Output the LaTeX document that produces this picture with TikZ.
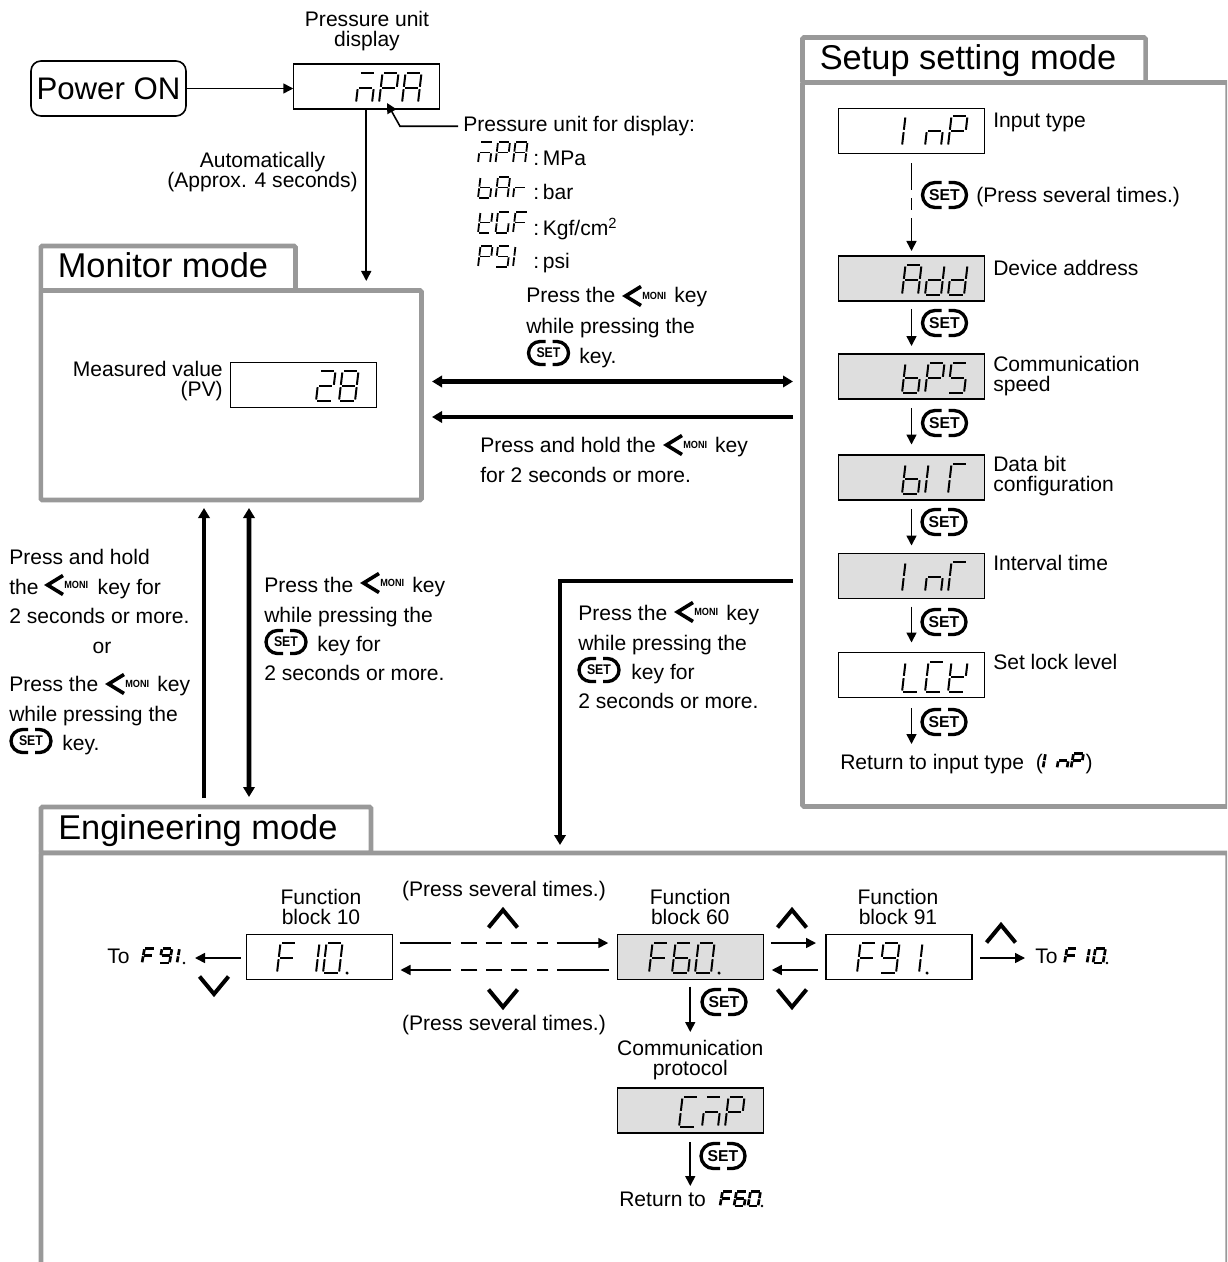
\documentclass[tikz,border=0pt]{standalone}
\usepackage{fontspec}
\setmainfont{Liberation Sans}
\newfontfamily\keyfont[FakeStretch=0.88]{Liberation Sans}
\usetikzlibrary{arrows.meta,calc}
\definecolor{framegray}{gray}{0.6}
\definecolor{dispfill}{gray}{0.87}
\newcommand\ts{\rule{0pt}{12.5pt}}
% seven segment glyphs
\tikzset{ssline/.style={line width=\ssL,line cap=butt}}
\expandafter\def\csname ssa\endcsname{\draw[ssline] (.08,1)--(.92,1);}
\expandafter\def\csname ssb\endcsname{\draw[ssline] (1,.95)--(1,.54);}
\expandafter\def\csname ssc\endcsname{\draw[ssline] (1,.46)--(1,.05);}
\expandafter\def\csname ssd\endcsname{\draw[ssline] (.92,0)--(.08,0);}
\expandafter\def\csname sse\endcsname{\draw[ssline] (0,.05)--(0,.46);}
\expandafter\def\csname ssf\endcsname{\draw[ssline] (0,.54)--(0,.95);}
\expandafter\def\csname ssg\endcsname{\draw[ssline] (.08,.5)--(.92,.5);}
\expandafter\def\csname ssz\endcsname{}
\expandafter\def\csname ss.\endcsname{\fill (\ssD,0) circle[radius=\ssR];}
\expandafter\def\csname ss!\endcsname{\fill (0.7,0) circle[radius=\ssR];}
\def\ssgl#1{\ifx#1\relax\else\csname ss#1\endcsname\expandafter\ssgl\fi}
\newcommand\ssbig{\def\ssW{16}\def\ssS{3.5}\def\ssH{30}\def\ssP{23}\def\ssL{1.5pt}\def\ssD{1.5}\def\ssR{1.3pt}}
\newcommand\sssmall{\def\ssW{12}\def\ssS{2.5}\def\ssH{21}\def\ssP{17.5}\def\ssL{1.35pt}\def\ssD{1.5}\def\ssR{1pt}}
\newcommand\ssinl{\def\ssW{10}\def\ssS{2.5}\def\ssH{14.5}\def\ssP{14}\def\ssL{2pt}\def\ssD{1.4}\def\ssR{1pt}}
\newcommand\sevenword[4]{#1%
  \foreach \g [count=\i from 0] in {#4}{%
    \begin{scope}[shift={({#2+\i*\ssP},#3)},x={(\ssW*0.75pt,0pt)},y={(\ssS*0.75pt,\ssH*0.75pt)}]
      \expandafter\ssgl\g\relax
    \end{scope}
  }}
\newcommand\setring[2]{%
  \draw[line width=2.5pt,rounded corners=#2*0.75pt] (-3,-#2) -- (-#1,-#2) -- (-#1,#2) -- (-3,#2);
  \draw[line width=2.5pt,rounded corners=#2*0.75pt] (4,-#2) -- (#1,-#2) -- (#1,#2) -- (4,#2);}
\tikzset{
  frame/.style={draw=framegray,line width=3.4pt,fill=white,rounded corners=1pt,inner sep=0pt,outer sep=0pt},
  hd/.style={font=\fontsize{25.8}{30}\selectfont,inner sep=0pt,anchor=base west},
  disp/.style={draw,line width=0.9pt,minimum width=109.5pt,minimum height=33.75pt,inner sep=0pt,outer sep=0pt,fill=white},
  dispg/.style={disp,fill=dispfill},
  conn/.style={line width=1.2pt,-{Triangle[length=7.5pt,width=7.5pt]}},
  fatline/.style={line width=3.6pt,line join=miter},
  fatto/.style={fatline,-{Triangle[length=7.5pt,width=8.5pt]}},
  fatboth/.style={fatline,{Triangle[length=7.5pt,width=8.5pt]}-{Triangle[length=7.5pt,width=8.5pt]}},
  lblw/.style={inner sep=0pt,anchor=north west,align=left,font=\fontsize{15.8}{22}\selectfont},
  lblt/.style={inner sep=0pt,anchor=north west,align=left,font=\fontsize{15.8}{15}\selectfont},
  lblc/.style={inner sep=0pt,anchor=north,align=center,font=\fontsize{15.8}{15}\selectfont},
  monikey/.pic={
    \draw[line width=2.7pt,line join=miter] (18,-9.5) -- (2.5,0) -- (18,9.5);
    \node[inner sep=0pt,anchor=west,font=\keyfont\bfseries\fontsize{7.8}{8}\selectfont] (-t) at (19,0) {MONI};
  },
  bigset/.pic={
    \setring{22}{12.5}
    \node[inner sep=0pt,font=\bfseries\fontsize{11.8}{12}\selectfont] (-t) at (0,0) {SET};
  },
  smallset/.pic={
    \setring{20}{11.5}
    \node[inner sep=0pt,font=\keyfont\bfseries\fontsize{10.5}{11}\selectfont] (-t) at (0,0) {SET};
  },
  upkey/.pic={\draw[line width=3pt,line join=miter] (-14.5,20.5) -- (0,3) -- (14.5,20.5);},
  downkey/.pic={\draw[line width=3pt,line join=miter] (-14.5,-20.5) -- (0,-3) -- (14.5,-20.5);},
}
\begin{document}
\begin{tikzpicture}[x=0.75pt,y=-0.75pt]
\useasboundingbox (0,0) rectangle (1227,1262);
\clip (0,0) rectangle (1227,1262);
% ---------- frames
\node[frame,minimum width={254.7*0.75pt},minimum height={44.5*0.75pt}] (montab) at (168.15,268.25) {};
\node[frame,minimum width={380.7*0.75pt},minimum height={209.5*0.75pt}] (monitor) at (231.15,395.25) {};
\node[hd] (monlabel) at (57.5,277) {Monitor mode};
\node[frame,minimum width={343*0.75pt},minimum height={45*0.75pt}] (setuptab) at (974,60) {};
\node[frame,minimum width={425.2*0.75pt},minimum height={724*0.75pt}] (setup) at (1015.1,444.5) {};
\node[hd] (setuplabel) at (819.5,70) {Setup setting mode};
\node[frame,minimum width={330*0.75pt},minimum height={46*0.75pt}] (engtab) at (206,830) {};
\node[frame,minimum width={1186.7*0.75pt},minimum height={447*0.75pt}] (engineering) at (634.35,1076.5) {};
\node[hd] (englabel) at (58,839) {Engineering mode};
% ---------- top
\node[draw,line width=1.2pt,rounded corners=7.5pt,minimum width={155*0.75pt},minimum height={55*0.75pt},inner sep=0pt,font=\fontsize{23.4}{26}\selectfont] (power) at (108.5,88.5) {Power ON};
\node[disp] (pdisp) at (366.25,86.5) {};
\sevenword\ssbig{356}{103}{aceg,abefg,abcefg}
\node[lblc] (punitcap) at (367,10) {\ts Pressure unit\\display};
\draw[conn] (power.east) -- (power.east -| pdisp.west);
\draw[conn] (pdisp.south) -- ($(pdisp.south |- monitor.north)+(0,-9.5)$);
\node[lblc] (autolabel) at (262.5,151) {\ts Automatically\\(Approx. 4 seconds)};
\node[lblw] (punit) at (463,115) {\ts Pressure unit for display:};
\draw[conn] ($(punit.west)+(-5,0.5)$) -- ++(-58,0) -- ($(pdisp.south)+(20.75,-6)$);
\sevenword\sssmall{478}{163}{aceg,abefg,abcefg}
\node[lblw] (umpa) at (533,149) {\ts :\hspace{2.8pt}MPa};
\sevenword\sssmall{478}{198}{cdefg,abcefg,eg}
\node[lblw] (ubar) at (533,183) {\ts :\hspace{2.8pt}bar};
\sevenword\sssmall{478}{233}{bdefg,acdef,aefg}
\node[lblw] (ukgf) at (533,218) {\ts :\hspace{2.8pt}Kgf/cm\textsuperscript{2}};
\sevenword\sssmall{478}{267}{abefg,acdfg,ef}
\node[lblw] (upsi) at (533,252) {\ts :\hspace{2.8pt}psi};
% ---------- monitor
\node[disp] (pv) at (303.5,385) {};
\sevenword\ssbig{316}{401}{abdeg,abcdefg}
\node[inner sep=0pt,anchor=north east,align=right,font=\fontsize{15.8}{15}\selectfont] (pvlabel) at (223,360) {\ts Measured value\\(PV)};
% ---------- monitor <-> setup
\node[lblw,font=\fontsize{15.8}{22.8}\selectfont] (msa) at (526,286) {\ts Press the\hspace{40pt} key\\while pressing the\\\hspace*{35.5pt} key.};
\pic (m1) at (623,296) {monikey};
\pic (s1) at (548.5,353) {smallset};
\draw[fatboth] ($(monitor.east)+(10.5,-13.75)$) -- ($(setup.west)+(-9.5,-63)$);
\draw[fatto] ($(setup.west)+(-9.5,-27.5)$) -- ($(monitor.east)+(10.5,21.75)$);
\node[lblw] (msb) at (480,436) {\ts Press and hold the\hspace{40pt} key\\for 2 seconds or more.};
\pic (m2) at (664,445) {monikey};
% ---------- monitor <-> engineering
\draw[fatto] ($(engtab.north)+(-2,-9)$) -- ($(monitor.south)+(-27.15,8)$);
\draw[fatboth] ($(monitor.south)+(17.85,8)$) -- ($(engtab.north)+(43,-10)$);
\node[lblw] (mea) at (9,548) {\ts Press and hold\\the\hspace{40pt} key for\\2 seconds or more.};
\pic (m3) at (45,585) {monikey};
\node[lblw,anchor=north] (mor) at (102,637) {\ts or};
\node[lblw] (meb) at (9,675) {\ts Press the\hspace{40pt} key\\while pressing the\\\hspace*{35.5pt} key.};
\pic (m4) at (106,684) {monikey};
\pic (s2) at (31,741) {smallset};
\node[lblw] (mec) at (264,576) {\ts Press the\hspace{40pt} key\\while pressing the\\\hspace*{35.5pt} key for\\2 seconds or more.};
\pic (m5) at (361,583) {monikey};
\pic (s3) at (286,642) {smallset};
% ---------- setup -> engineering
\draw[fatto] ($(setup.west)+(-9.5,136.5)$) -| ($(engineering.north)+(-74.35,-8)$);
\node[lblw] (sea) at (578,604) {\ts Press the\hspace{40pt} key\\while pressing the\\\hspace*{35.5pt} key for\\2 seconds or more.};
\pic (m6) at (675,612) {monikey};
\pic (s4) at (599,670) {smallset};
% ---------- setup column
\node[disp] (inp) at (911.5,131) {};
\sevenword\ssbig{902}{146}{ef,ceg,abefg}
\node[lblw] (inplabel) at (993,111) {\ts Input type};
\pic (b1) at (944.5,195) {bigset};
\node[lblw] (several) at (976,186) {\ts (Press several times.)};
\node[dispg] (add) at (911.5,278.5) {};
\sevenword\ssbig{902}{295}{abcefg,bcdeg,bcdeg}
\node[lblw] (addlabel) at (993,259) {\ts Device address};
\pic (b2) at (944.5,323) {bigset};
\node[dispg] (bps) at (911.5,376.5) {};
\sevenword\ssbig{902}{393}{cdefg,abefg,acdfg}
\node[lblt] (bpslabel) at (993,355) {\ts Communication\\speed};
\pic (b3) at (944.5,423) {bigset};
\node[dispg] (bit) at (911.5,477.5) {};
\sevenword\ssbig{902}{494}{cdefg,ef,aef}
\node[lblt] (bitlabel) at (993,455) {\ts Data bit\\configuration};
\pic (b4) at (944,522) {bigset};
\node[dispg] (int) at (911.5,576) {};
\sevenword\ssbig{902}{592}{ef,ceg,aef}
\node[lblw] (intlabel) at (993,554) {\ts Interval time};
\pic (b5) at (944,622) {bigset};
\node[disp] (lck) at (911.5,675) {};
\sevenword\ssbig{902}{692}{def,adef,bdefg}
\node[lblw] (lcklabel) at (993,653) {\ts Set lock level};
\coordinate (retpt) at (911.5,744);
\pic (b6) at (944,722) {bigset};
\node[lblw] (retinp) at (840,753) {\ts Return to input type\hspace{4.5pt} (\hspace{32pt})};
\sevenword\ssinl{1043}{768}{ef,ceg,abefg}
\draw[conn] ($(inp.south)+(0,10)$) -- ++(0,27) ++(0,8) -- ++(0,12) ++(0,8) -- ($(add.north)+(0,-5)$);
\draw[conn] ($(add.south)+(0,8)$) -- ($(bps.north)+(0,-8)$);
\draw[conn] ($(bps.south)+(0,9)$) -- ($(bit.north)+(0,-10.5)$);
\draw[conn] ($(bit.south)+(0,9)$) -- ($(int.north)+(0,-8)$);
\draw[conn] ($(int.south)+(0,8)$) -- ($(lck.north)+(0,-10)$);
\draw[conn] ($(lck.south)+(0,10.5)$) -- (retpt);
% ---------- engineering
\node[disp] (f10) at (319.5,957) {};
\sevenword\ssbig{277}{973}{aefg,bc,abcdef.}
\node[dispg] (f60) at (690.25,957) {};
\sevenword\ssbig{649}{973}{aefg,acdefg,abcdef.}
\node[disp] (f91) at (899,957) {};
\sevenword\ssbig{857}{973}{aefg,abcdfg,bc.}
\node[lblc] (f10cap) at (321,888) {\ts Function\\block 10};
\node[lblc] (f60cap) at (690.25,888) {\ts Function\\block 60};
\node[lblc] (f91cap) at (898,888) {\ts Function\\block 91};
\node[lblc] (sevtop) at (504,880) {\ts (Press several times.)};
\node[lblc] (sevbot) at (504,1014) {\ts (Press several times.)};
\draw[conn] ($(f10.east)+(7,-14)$) -- ++(51,0) ++(10,0) -- ++(16,0) ++(9,0) -- ++(16,0) ++(9,0) -- ++(16,0) ++(10,0) -- ++(11,0) ++(9,0) -- ($(f60.west)+(-9,-14)$);
\draw[conn] ($(f60.west)+(-8,13)$) -- ++(-52,0) ++(-9,0) -- ++(-11,0) ++(-10,0) -- ++(-16,0) ++(-9,0) -- ++(-16,0) ++(-9,0) -- ++(-16,0) ++(-10,0) -- ($(f10.east)+(8,13)$);
\pic (u1) at (503,907) {upkey};
\pic (d1) at (503,1010) {downkey};
\draw[conn] ($(f60.east)+(7.5,-14)$) -- ($(f91.west)+(-10,-14)$);
\draw[conn] ($(f91.west)+(-8,13)$) -- ($(f60.east)+(8.5,13)$);
\pic (u2) at (792,907) {upkey};
\pic (d2) at (792,1010) {downkey};
\coordinate (tof10pt) at (1025,958);
\draw[conn] ($(f91.east)+(8,1)$) -- (tof10pt);
\pic (u3) at (1001,922) {upkey};
\node[lblw] (tof10) at (1035,947) {\ts To};
\sevenword\ssinl{1064.5}{963}{aefg}
\sevenword\ssinl{1087}{963}{ef}
\sevenword\ssinl{1093}{963}{abcdef.}
\coordinate (tof91pt) at (195,958);
\draw[conn] ($(f10.west)+(-6,1)$) -- (tof91pt);
\pic (d3) at (214,997) {downkey};
\node[lblw] (tof91) at (107,947) {\ts To};
\sevenword{\ssinl\def\ssP{17.5}}{142}{963}{aefg,abcdfg,ef!}
% f60 branch
\pic (b7) at (724,1002) {bigset};
\node[lblc] (commcap) at (690.25,1039) {\ts Communication\\protocol};
\node[dispg] (cnp) at (690.25,1110.5) {};
\sevenword\ssbig{679}{1127}{adef,aceg,abefg}
\pic (b8) at (723,1156) {bigset};
\node[lblw] (retf60) at (619,1190) {\ts Return to};
\sevenword\ssinl{720}{1206}{aefg,acdefg,abcdef.}
\draw[conn] ($(f60.south)+(0,7)$) -- ($(commcap.north)+(0,-7)$);
\draw[conn] ($(cnp.south)+(0,9)$) -- ($(cnp.south)+(0,53)$);
\end{tikzpicture}
\end{document}
